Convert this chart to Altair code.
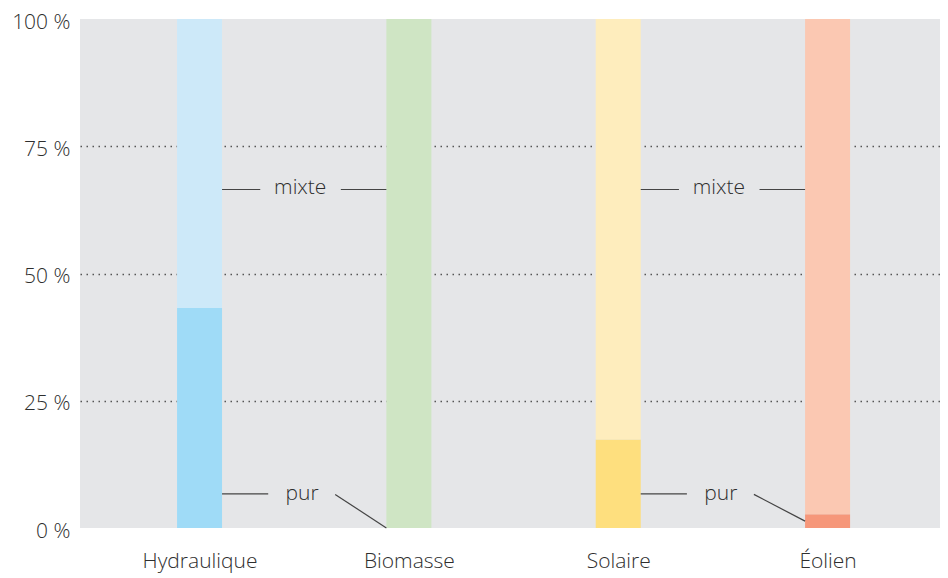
import altair as alt
import pandas as pd

categories = ["Hydraulique", "Biomasse", "Solaire", "Éolien"]
positions = [0, 1, 2, 3]
pur = [43.2, 0.0, 17.4, 2.7]
mixte = [56.8, 100.0, 82.6, 97.3]
col_pur = ["#9fdbf7", "#cfe5c4", "#fedf7e", "#f6977a"]
col_mixte = ["#cde9f9", "#cfe5c4", "#feedbd", "#fbc8b2"]

half = 0.1075
rows = []
for c, p, vp, vm, cp, cm in zip(categories, positions, pur, mixte, col_pur, col_mixte):
    rows.append(dict(cat=c, x=p - half, x2=p + half, y=0, y2=vp, color=cp))
    rows.append(dict(cat=c, x=p - half, x2=p + half, y=vp, y2=vp + vm, color=cm))
bars_df = pd.DataFrame(rows)

# annotation segments (between category pairs 0-1 and 2-3)
seg_rows = []
txt_rows = []
for a in [0, 2]:
    b = a + 1
    # mixte
    seg_rows.append(dict(x=a + half, x2=a + 0.29, y=66.5, y2=66.5))
    seg_rows.append(dict(x=a + 0.675, x2=b - half, y=66.5, y2=66.5))
    txt_rows.append(dict(x=a + 0.481, y=66.7, t="mixte"))
    # pur
    seg_rows.append(dict(x=a + half, x2=a + 0.328, y=6.7, y2=6.7))
    txt_rows.append(dict(x=a + 0.49, y=6.7, t="pur"))
    seg_rows.append(dict(x=a + 0.648, x2=b - half, y=6.6, y2=pur[b] / 2))
seg_df = pd.DataFrame(seg_rows)
txt_df = pd.DataFrame(txt_rows)

font = "Open Sans"
fw = 300
fs = 21
tc = "#2e2e2e"
xscale = alt.Scale(domain=[-0.571, 3.537], nice=False, zero=False)
yscale = alt.Scale(domain=[0, 100], nice=False)

label_expr = "['Hydraulique','Biomasse','Solaire','Éolien'][datum.value]"

bars = alt.Chart(bars_df).mark_bar(cornerRadius=0).encode(
    x=alt.X("x:Q", scale=xscale, title=None,
            axis=alt.Axis(values=positions, labelExpr=label_expr, grid=False,
                          domain=False, ticks=False, labelPadding=33,
                          labelFontSize=fs, labelFont=font, labelFontWeight=fw,
                          labelColor=tc, labelBaseline="middle")),
    x2="x2:Q",
    y=alt.Y("y:Q", scale=yscale, title=None,
            axis=alt.Axis(values=[0, 25, 50, 75, 100], labelExpr="datum.value + ' %'",
                          domain=False, ticks=False, labelPadding=10, labelOffset=3,
                          labelFontSize=fs, labelFont=font, labelFontWeight=fw,
                          labelColor=tc, labelBaseline="middle",
                          gridColor="#555555", gridDash=[1.5, 4.5], gridWidth=1.5,
                          gridOpacity=alt.ExprRef("datum.value > 0 && datum.value < 100 ? 1 : 0"))),
    y2="y2:Q",
    color=alt.Color("color:N", scale=None),
)

segs = alt.Chart(seg_df).mark_rule(color="#444444", strokeWidth=1.2).encode(
    x=alt.X("x:Q", scale=xscale), x2="x2:Q",
    y=alt.Y("y:Q", scale=yscale), y2="y2:Q",
)

texts = alt.Chart(txt_df).mark_text(font=font, fontSize=fs, fontWeight=fw,
                                    color=tc, baseline="middle").encode(
    x=alt.X("x:Q", scale=xscale), y=alt.Y("y:Q", scale=yscale), text="t:N",
)

chart = alt.layer(bars, segs, texts).properties(
    width=860, height=509,
    autosize=alt.AutoSizeParams(type="none"),
    padding={"left": 72, "top": 11, "right": 0, "bottom": 46},
).configure_view(fill="#e5e6e8", stroke=None).configure_axis(gridOpacity=1)

chart.save("out.html", embed_options={"renderer": "svg", "actions": False})
